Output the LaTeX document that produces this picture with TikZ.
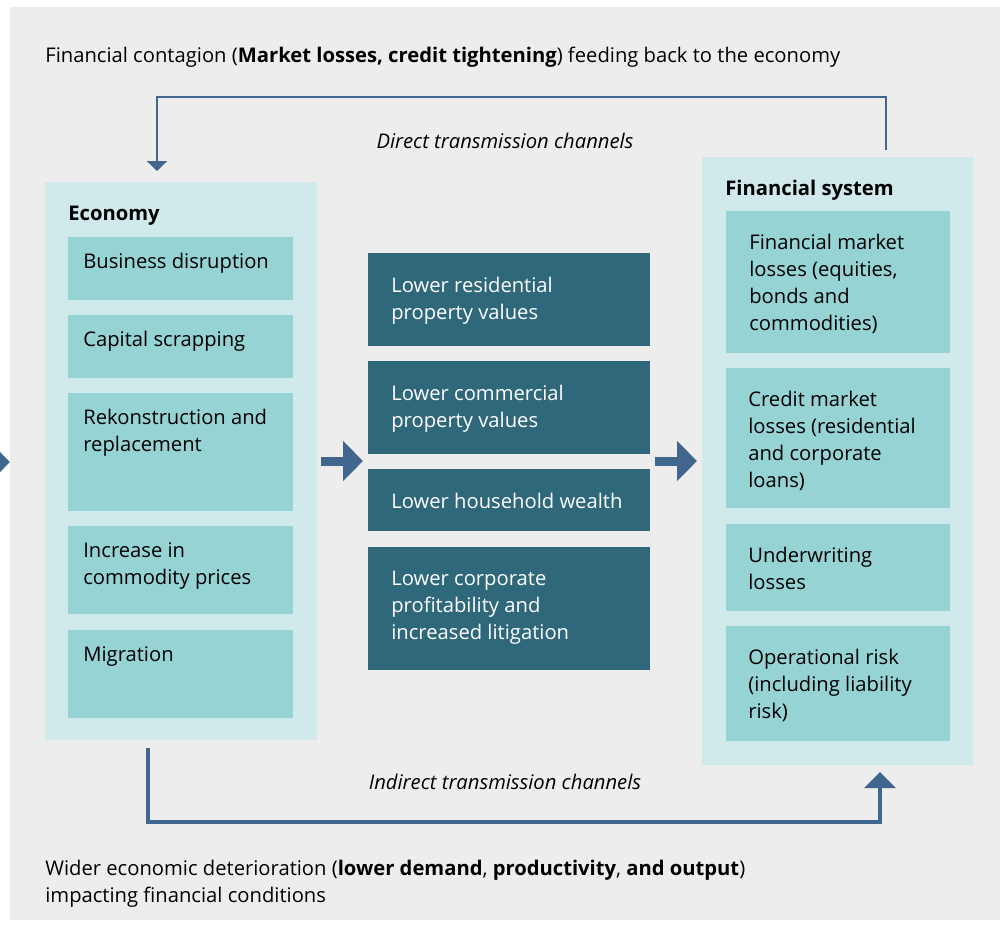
\documentclass[tikz,border=0pt]{standalone}
\usepackage{fontspec}
\setmainfont{Open Sans}
\usetikzlibrary{arrows.meta, positioning}
\definecolor{panelgrey}{HTML}{EDEDED}
\definecolor{outerbox}{HTML}{D0E9EA}
\definecolor{innerbox}{HTML}{96D3D4}
\definecolor{darkbox}{HTML}{2F687B}
\definecolor{arrowblue}{HTML}{42678F}
\newcommand{\bodyfont}{\fontsize{11.5}{15.3}\selectfont}

\begin{document}
\begin{tikzpicture}[x=0.02cm, y=-0.02cm, font=\bodyfont,
    outer/.style={fill=outerbox, anchor=north west, inner sep=0pt, minimum width=#1},
    ecobox/.style={fill=innerbox, anchor=north west, inner sep=0pt, minimum width=4.5cm, minimum height=#1},
    finbox/.style={fill=innerbox, anchor=north west, inner sep=0pt, minimum width=4.48cm, minimum height=#1},
    midbox/.style={fill=darkbox, anchor=north west, inner sep=0pt, minimum width=5.64cm, minimum height=#1},
    boxtext/.style={anchor=north west, align=left, inner sep=0pt},
    title/.style={anchor=west, inner sep=0pt, font=\bodyfont\bfseries},
    channel/.style={inner sep=0pt, font=\bodyfont\itshape},
    feedback/.style={draw=arrowblue, line width=1.4pt, -{Triangle[length=0.2cm, width=0.4cm]}},
    spillover/.style={draw=arrowblue, line width=2.8pt, -{Triangle[length=0.32cm, width=0.62cm]}},
    blockarrow/.style={draw=arrowblue, line width=0.18cm, -{Triangle[length=0.4cm, width=0.78cm]}}
]
    \useasboundingbox (0,0) rectangle (1000,924);
    \clip (0,0) rectangle (1000,924);
    \fill[panelgrey] (10,7) rectangle (1000,920);

    % headline and footnote
    \node[anchor=west, inner sep=0pt] (headline) at (45,57)
        {Financial contagion (\textbf{Market losses, credit tightening}) feeding back to the economy};
    \node[anchor=north west, align=left, inner sep=0pt] (footline) at (45,860)
        {Wider economic deterioration (\textbf{lower demand}, \textbf{productivity}, \textbf{and output})\\
         impacting financial conditions};

    % economy
    \node[outer=5.44cm, minimum height=11.16cm] (eco) at (45,182) {};
    \node[title] (ecotitle) at (68,216) {Economy};
    \node[ecobox=1.26cm] (disrupt) at (68,237) {};
    \node[ecobox=1.26cm] (scrap) at (68,315) {};
    \node[ecobox=2.36cm] (rebuild) at (68,393) {};
    \node[ecobox=1.76cm] (commod) at (68,526) {};
    \node[ecobox=1.76cm] (migr) at (68,630) {};
    \node[boxtext] at ([xshift=0.3cm, yshift=-0.32cm]disrupt.north west) {Business disruption};
    \node[boxtext] at ([xshift=0.3cm, yshift=-0.32cm]scrap.north west) {Capital scrapping};
    \node[boxtext] at ([xshift=0.3cm, yshift=-0.32cm]rebuild.north west) {Rekonstruction and\\replacement};
    \node[boxtext] at ([xshift=0.3cm, yshift=-0.32cm]commod.north west) {Increase in\\commodity prices};
    \node[boxtext] at ([xshift=0.3cm, yshift=-0.32cm]migr.north west) {Migration};

    % middle channels
    \node[midbox=1.86cm] (resid) at (368,253) {};
    \node[midbox=1.86cm] (comm) at (368,361) {};
    \node[midbox=1.24cm] (wealth) at (368,469) {};
    \node[midbox=2.46cm] (profit) at (368,547) {};
    \node[boxtext, text=white] at ([xshift=0.46cm, yshift=-0.47cm]resid.north west) {Lower residential\\property values};
    \node[boxtext, text=white] at ([xshift=0.46cm, yshift=-0.47cm]comm.north west) {Lower commercial\\property values};
    \node[boxtext, text=white] at ([xshift=0.46cm, yshift=-0.47cm]wealth.north west) {Lower household wealth};
    \node[boxtext, text=white] at ([xshift=0.46cm, yshift=-0.47cm]profit.north west) {Lower corporate\\profitability and\\increased litigation};

    % financial system
    \node[outer=5.42cm, minimum height=12.16cm] (fin) at (702,157) {};
    \node[title] (fintitle) at (725,190) {Financial system};
    \node[finbox=2.84cm] (market) at (726,211) {};
    \node[finbox=2.8cm] (credit) at (726,368) {};
    \node[finbox=1.74cm] (underw) at (726,524) {};
    \node[finbox=2.3cm] (oprisk) at (726,626) {};
    \node[boxtext] at ([xshift=0.46cm, yshift=-0.46cm]market.north west) {Financial market\\losses (equities,\\bonds and\\commodities)};
    \node[boxtext] at ([xshift=0.44cm, yshift=-0.46cm]credit.north west) {Credit market\\losses (residential\\and corporate\\loans)};
    \node[boxtext] at ([xshift=0.44cm, yshift=-0.46cm]underw.north west) {Underwriting\\losses};
    \node[boxtext] at ([xshift=0.44cm, yshift=-0.46cm]oprisk.north west) {Operational risk\\(including liability\\risk)};

    % channel labels
    \node[channel] (direct) at (505,141) {Direct transmission channels};
    \node[channel] (indirect) at (505,782) {Indirect transmission channels};

    % connectors
    \coordinate (finout) at (886,150);
    \coordinate (ecoin) at (157,171);
    \coordinate (ecoout) at (148,748);
    \coordinate (finin) at (880,772);
    \coordinate (edgein) at (-40,462);
    \coordinate (edgetip) at (10,462);
    \draw[feedback] (finout) -- (886,97) -| (ecoin);
    \draw[spillover] (ecoout) |- (514,822) -| (finin);
    \draw[blockarrow] (edgein) -- (edgetip);
    \draw[blockarrow] (321,461) coordinate (a1) -- (363,461) coordinate (a2);
    \draw[blockarrow] (655,461) coordinate (b1) -- (697,461) coordinate (b2);
\end{tikzpicture}
\end{document}
